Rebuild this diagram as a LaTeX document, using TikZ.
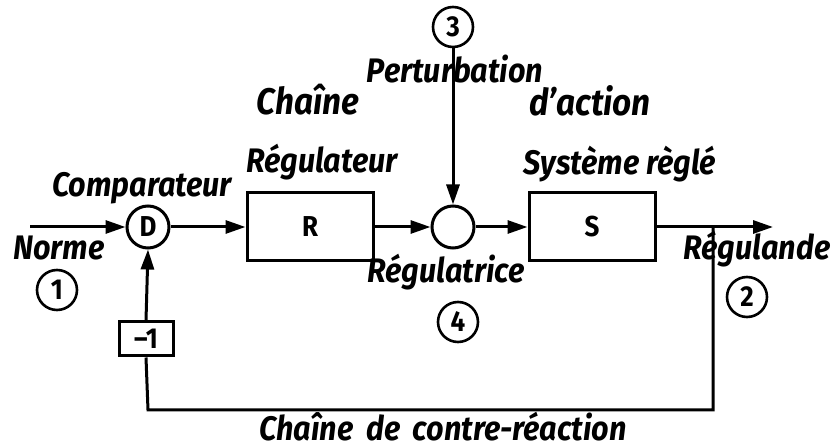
\documentclass[tikz,border=0pt]{standalone}
\usepackage{fontspec}
\setmainfont{Fira Sans}[FakeStretch=0.9]
\usetikzlibrary{arrows.meta,positioning}

\begin{document}
\begin{tikzpicture}[
  x=0.5pt, y=-0.5pt,
  blk/.style={draw, line width=1.5pt, minimum width=63pt, minimum height=34pt,
    font=\bfseries\Large},
  junc/.style={draw, circle, line width=1.5pt, minimum size=21pt, inner sep=0pt,
    font=\bfseries\Large},
  num/.style={draw, circle, line width=1.3pt, minimum size=20pt, inner sep=0pt,
    font=\bfseries\Large},
  lbl/.style={font=\bfseries\itshape\fontsize{17}{19}\selectfont},
  big/.style={font=\bfseries\itshape\fontsize{18.5}{21}\selectfont},
  wire/.style={line width=1.5pt},
  arr/.style={wire, -{Triangle[length=10pt,width=6.5pt]}}
]
\useasboundingbox (0,0) rectangle (835,448);
% Main chain
\coordinate (in)  at (30,227);
\node[junc] (cmp) at (148,227) {D};
\node[blk]  (reg) at (310,227) {R};
\node[junc] (sum) at (453,227) {};
\node[blk]  (sys) at (592,227) {S};
\coordinate (out) at (773,227);
\coordinate (tap) at (713,227);
% Feedback chain
\node[draw, line width=1.5pt, minimum width=27pt, minimum height=17pt, inner sep=1pt,
  font=\bfseries\Large] (neg) at (146,339) {\textendash1};
\coordinate (br) at (713,410);
\coordinate (bl) at (148,410);
% Disturbance input
\node[num] (n3) at (453,27) {3};
% Numbered points
\node[num] (n1) at (57,290)  {1};
\node[num] (n2) at (747,297) {2};
\node[num] (n4) at (458,322) {4};
% Labels
\node[lbl] (lcmp) at (142,188) {Comparateur};
\node[lbl] (lnrm) at (59,248)  {Norme};
\node[lbl] (lreg) at (322,162) {Régulateur};
\node[big] (lch)  at (308,100) {Chaîne};
\node[lbl] (lper) at (455,69)  {Perturbation};
\node[big] (lact) at (590,101) {d'action};
\node[lbl] (lsys) at (620,164) {Système règlé};
\node[lbl] (lrtr) at (446,272) {Régulatrice};
\node[lbl] (lrgd) at (757,249) {Régulande};
\node[lbl] (lfb)  at (443,427) {Chaîne\, de\, contre-réaction};
% Connections
\draw[arr] (in) -- (cmp.west);
\draw[arr] (cmp) -- (reg);
\draw[arr] (reg) -- (sum);
\draw[arr] (sum) -- (sys);
\draw[arr] (sys.east) -- (out);
\draw[arr] (n3) -- (sum);
\draw[wire] (tap) -- (br) -- (bl) -- (neg.south);
\draw[arr] (neg.north) -- (cmp.south);
\end{tikzpicture}
\end{document}
